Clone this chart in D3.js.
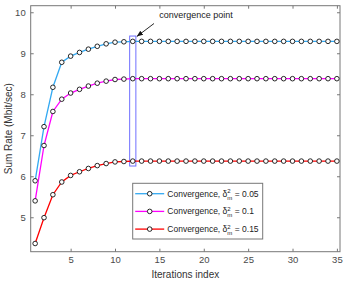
<!DOCTYPE html>
<html>
<head>
<meta charset="utf-8">
<script src="https://cdn.jsdelivr.net/npm/d3@7"></script>
<style>
  body { margin: 0; background: #fff; }
  svg { display: block; font-family: "Liberation Sans", Arial, sans-serif; }
  .tick text { fill: #4a4a4a; font-size: 9.5px; }
  .tick line { stroke: #777; }
</style>
</head>
<body>
<div id="chart"></div>
<script>
// iterations 1..35
var iterations = d3.range(1, 36);

var rate005 = [5.89, 7.21, 8.17, 8.78, 8.93, 9.02, 9.10, 9.17, 9.23, 9.27, 9.28,
  9.29, 9.29, 9.29, 9.29, 9.29, 9.29, 9.29, 9.29, 9.29, 9.29, 9.29, 9.29, 9.29,
  9.29, 9.29, 9.29, 9.29, 9.29, 9.29, 9.29, 9.29, 9.29, 9.29, 9.29];
var rate01 = [5.40, 6.75, 7.58, 7.88, 8.03, 8.12, 8.20, 8.27, 8.32, 8.36, 8.37,
  8.38, 8.38, 8.38, 8.38, 8.38, 8.38, 8.38, 8.38, 8.38, 8.38, 8.38, 8.38, 8.38,
  8.38, 8.38, 8.38, 8.38, 8.38, 8.38, 8.38, 8.38, 8.38, 8.38, 8.38];
var rate015 = [4.36, 4.99, 5.55, 5.86, 6.02, 6.11, 6.19, 6.26, 6.31, 6.35, 6.36,
  6.37, 6.37, 6.37, 6.37, 6.37, 6.37, 6.37, 6.37, 6.37, 6.37, 6.37, 6.37, 6.37,
  6.37, 6.37, 6.37, 6.37, 6.37, 6.37, 6.37, 6.37, 6.37, 6.37, 6.37];

var seriesNames = ["0.05", "0.1", "0.15"];
var seriesColors = ["#33a9f2", "#ff00ff", "#ff0000"];
var xTicks = [5, 10, 15, 20, 25, 30, 35];
var yTicks = [5, 6, 7, 8, 9, 10];

var width = 349, height = 282,
    margin = {top: 5.7, right: 9, bottom: 30.3, left: 30.7};

var svg = d3.select("#chart").append("svg")
  .attr("width", width)
  .attr("height", height);

var x = d3.scaleLinear().domain([0.5, 35.35]).range([margin.left, width - margin.right]);
var y = d3.scaleLinear().domain([4.16, 10.16]).range([height - margin.bottom, margin.top]);

// axes, ticks inside like matlab
svg.append("g")
  .attr("transform", "translate(0," + (height - margin.bottom) + ")")
  .call(d3.axisBottom(x).tickValues(xTicks).tickFormat(d3.format("d")).tickSize(-3).tickPadding(5))
  .call(function(g) { g.select(".domain").remove(); });
svg.append("g")
  .attr("transform", "translate(0," + margin.top + ")")
  .call(d3.axisTop(x).tickValues(xTicks).tickSize(-3).tickFormat(""))
  .call(function(g) { g.select(".domain").remove(); });
svg.append("g")
  .attr("transform", "translate(" + margin.left + ",0)")
  .call(d3.axisLeft(y).tickValues(yTicks).tickFormat(d3.format("d")).tickSize(-3).tickPadding(5))
  .call(function(g) { g.select(".domain").remove(); });
svg.append("g")
  .attr("transform", "translate(" + (width - margin.right) + ",0)")
  .call(d3.axisRight(y).tickValues(yTicks).tickSize(-3).tickFormat(""))
  .call(function(g) { g.select(".domain").remove(); });

svg.append("rect")
  .attr("x", x.range()[0]).attr("y", y.range()[1])
  .attr("width", x.range()[1] - x.range()[0])
  .attr("height", y.range()[0] - y.range()[1])
  .attr("fill", "none").attr("stroke", "#777").attr("stroke-width", 1);

// convergence box around iteration 12
svg.append("rect")
  .attr("x", x(11.65)).attr("y", y(9.42))
  .attr("width", x(12.35) - x(11.65))
  .attr("height", y(6.25) - y(9.42))
  .attr("fill", "none").attr("stroke", "#6f6fff").attr("stroke-width", 1);

var line = d3.line()
  .x(function(d) { return x(d[0]); })
  .y(function(d) { return y(d[1]); });

[rate005, rate01, rate015].forEach(function(vals, i) {
  var pts = iterations.map(function(it, j) { return [it, vals[j]]; });
  svg.append("path")
    .datum(pts)
    .attr("d", line)
    .attr("fill", "none")
    .attr("stroke", seriesColors[i])
    .attr("stroke-width", 1.3);
  svg.append("g").selectAll("circle")
    .data(pts)
    .enter().append("circle")
    .attr("cx", function(d) { return x(d[0]); })
    .attr("cy", function(d) { return y(d[1]); })
    .attr("r", 2.3)
    .attr("fill", "#fff")
    .attr("stroke", "#111")
    .attr("stroke-width", 0.9);
});

// annotation
svg.append("defs").append("marker")
  .attr("id", "arrow")
  .attr("viewBox", "0 0 10 10")
  .attr("refX", 10).attr("refY", 5)
  .attr("markerWidth", 7).attr("markerHeight", 7)
  .attr("orient", "auto")
  .append("path").attr("d", "M0,1 L10,5 L0,9 z").attr("fill", "#111");
svg.append("line")
  .attr("x1", 154).attr("y1", 23.5)
  .attr("x2", x(12.45)).attr("y2", y(9.42) + 0.5)
  .attr("stroke", "#111").attr("stroke-width", 0.9)
  .attr("marker-end", "url(#arrow)");
svg.append("text")
  .attr("x", 159.3).attr("y", 18)
  .attr("font-size", 9).attr("fill", "#222")
  .text("convergence point");

// axis labels
svg.append("text")
  .attr("x", (x.range()[0] + x.range()[1]) / 2).attr("y", 278)
  .attr("text-anchor", "middle")
  .attr("font-size", 10).attr("fill", "#333")
  .text("Iterations index");
svg.append("text")
  .attr("transform", "translate(12," + ((y.range()[0] + y.range()[1]) / 2) + ") rotate(-90)")
  .attr("text-anchor", "middle")
  .attr("font-size", 10).attr("fill", "#333")
  .text("Sum Rate (Mbit/sec)");

// legend
var legend = svg.append("g").attr("transform", "translate(132.7,183.3)");
legend.append("rect")
  .attr("width", 130).attr("height", 55.7)
  .attr("fill", "#fff").attr("stroke", "#777").attr("stroke-width", 1);
seriesNames.forEach(function(name, i) {
  var row = legend.append("g").attr("transform", "translate(0," + (10.4 + i * 17.7) + ")");
  row.append("line")
    .attr("x1", 2.5).attr("x2", 31.5)
    .attr("stroke", seriesColors[i]).attr("stroke-width", 1.3);
  row.append("circle")
    .attr("cx", 17).attr("r", 2.3)
    .attr("fill", "#fff").attr("stroke", "#111").attr("stroke-width", 0.9);
  var t = row.append("text")
    .attr("x", 34.6).attr("y", 3)
    .attr("font-size", 8.5).attr("fill", "#222");
  t.append("tspan").text("Convergence, \u03b4");
  t.append("tspan").attr("dy", -3.5).attr("font-size", 6).text("2");
  t.append("tspan").attr("dx", -3.3).attr("dy", 6.5).attr("font-size", 6).text("m");
  t.append("tspan").attr("dy", -3).text(" = " + name);
});
</script>
</body>
</html>
